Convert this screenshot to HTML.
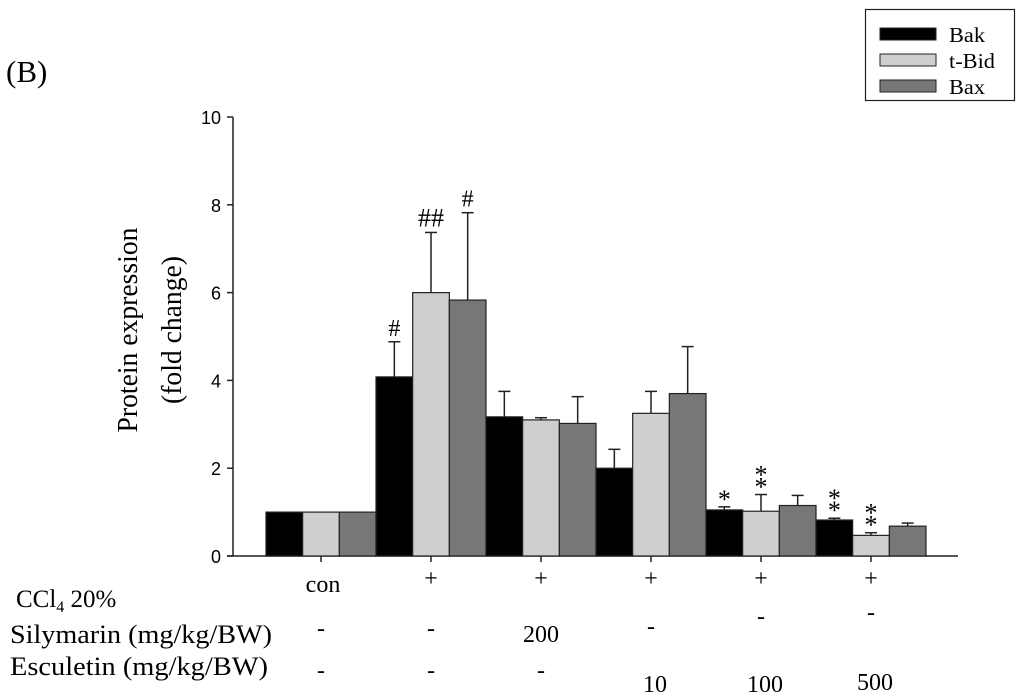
<!DOCTYPE html>
<html><head><meta charset="utf-8"><style>
html,body{margin:0;padding:0;background:#fff;}
svg{display:block;}
text{font-family:"Liberation Serif",serif;fill:#000;}
.tick{font-family:"Liberation Sans",sans-serif;font-size:18px;}
</style></head>
<body>
<svg id="chart" width="1024" height="698" viewBox="0 0 1024 698" xmlns="http://www.w3.org/2000/svg">
<text x="6" y="82" font-size="31">(B)</text>
<g>
<text x="0" y="0" font-size="29" text-anchor="middle" transform="translate(137,330) rotate(-90)" textLength="205" lengthAdjust="spacingAndGlyphs">Protein expression</text>
<text x="0" y="0" font-size="29" text-anchor="middle" transform="translate(181,330) rotate(-90)" textLength="148" lengthAdjust="spacingAndGlyphs">(fold change)</text>
</g>
<g id="axes"></g>
<g id="bars"></g>
<g id="labels"></g>
<g>
<rect x="865.5" y="9.5" width="149" height="91" fill="#fff" stroke="#222" stroke-width="1.2"/>
<rect x="880" y="28" width="56" height="12" fill="#000" stroke="#222"/>
<text x="949" y="42" font-size="21" textLength="36" lengthAdjust="spacingAndGlyphs">Bak</text>
<rect x="880" y="54" width="56" height="12" fill="#cfcfcf" stroke="#222"/>
<text x="949" y="68" font-size="21" textLength="46" lengthAdjust="spacingAndGlyphs">t-Bid</text>
<rect x="880" y="80" width="56" height="12" fill="#777" stroke="#222"/>
<text x="949" y="94" font-size="21" textLength="36" lengthAdjust="spacingAndGlyphs">Bax</text>
</g>
</svg>
<script>
const groups = ["con","+","+","+","+","+"];
const silymarin = ["-","-","200","-","-","-"];
const esculetin = ["-","-","-","10","100","500"];
const bakValues = [1.0,4.08,3.17,2.0,1.05,0.82];
const bakErrors = [0,0.80,0.58,0.43,0.07,0.04];
const tbidValues = [1.0,6.0,3.1,3.25,1.02,0.47];
const tbidErrors = [0,1.37,0.05,0.5,0.38,0.06];
const baxValues = [1.0,5.83,3.02,3.7,1.15,0.68];
const baxErrors = [0,1.99,0.61,1.07,0.23,0.07];
const bakMarks = ["","#","","","*","**"];
const tbidMarks = ["","###","","","**","**"];
const baxMarks = ["","#","","","",""];
const yTicks = [0,2,4,6,8,10];

const NS="http://www.w3.org/2000/svg";
const x0=233, y0=556, pxPerUnit=43.9, groupStart=266, groupW=110, barW=36.67;
const yS=v=>y0-v*pxPerUnit;
const gx=i=>groupStart+i*groupW;
function mk(tag,attrs,parent){const e=document.createElementNS(NS,tag);for(const k in attrs)e.setAttribute(k,attrs[k]);parent.appendChild(e);return e;}
const axes=document.getElementById('axes'), bars=document.getElementById('bars'), labels=document.getElementById('labels');

const ya=mk('line',{x1:x0,y1:y0,x2:x0,y2:yS(10),stroke:'#222','stroke-width':1.5},axes);


const xa=mk('line',{x1:x0-6,y1:y0,x2:958,y2:y0,stroke:'#222','stroke-width':1.5},axes);


yTicks.forEach(t=>{
  mk('line',{x1:x0-6,y1:yS(t),x2:x0,y2:yS(t),stroke:'#222','stroke-width':1.5},axes);
  const tx=mk('text',{x:x0-12,y:yS(t)+7,'text-anchor':'end',class:'tick'},axes);
  tx.textContent=t;
  
  
});
const series=[[bakValues,bakErrors,bakMarks,'#000','bak'],[tbidValues,tbidErrors,tbidMarks,'#cfcfcf','tbid'],[baxValues,baxErrors,baxMarks,'#777','bax']];
groups.forEach((g,i)=>{
  const cx=gx(i)+groupW/2;
  mk('line',{x1:cx,y1:y0,x2:cx,y2:y0+6,stroke:'#222','stroke-width':1.5},axes);
  series.forEach((s,j)=>{
    const v=s[0][i], e=s[1][i], bx=gx(i)+j*barW, mx=bx+barW/2;
    if(e>0){
      mk('line',{x1:mx,y1:yS(v),x2:mx,y2:yS(v+e),stroke:'#222','stroke-width':1.5},bars);
      mk('line',{x1:mx-6,y1:yS(v+e),x2:mx+6,y2:yS(v+e),stroke:'#222','stroke-width':1.5},bars);
    }
    const r=mk('rect',{x:bx,y:yS(v),width:barW,height:v*pxPerUnit,fill:s[3],stroke:'#222','stroke-width':1.2},bars);
    
    
    const m=s[2][i];
    if(m){
      const top=yS(v+e)-6;
      if(m[0]==='#'){
        const t=mk('text',{x:mx,y:top,'text-anchor':'middle','font-size':24},bars);
        if(m.length>1){t.setAttribute('font-size',26);t.setAttribute('textLength',26);t.setAttribute('lengthAdjust','spacingAndGlyphs');t.textContent='##';}
        else t.textContent='#';
        
        
      } else {
        for(let k=0;k<m.length;k++){
          const t=mk('text',{x:mx,y:top+7-k*12,'text-anchor':'middle','font-size':26,'font-family':'Liberation Sans'},bars);
          t.textContent='*';
          
          
        }
      }
    }
  });
  const t1=mk('text',{x:cx+(i===0?2:0),y:g==='con'?592:586,'text-anchor':'middle','font-size':24},labels);
  t1.textContent=g;
  
  
  const sy=[642,642,642,640,630,626][i];
  const t2=mk('text',{x:cx,y:silymarin[i]==='-'?sy-6:642,'text-anchor':'middle','font-size':24},labels);
  t2.textContent=silymarin[i];
  
  
  const ey=[684,684,684,692,692,690][i];
  const t3=mk('text',{x:cx+(i>=3?4:0),y:esculetin[i]==='-'?ey-6:ey,'text-anchor':'middle','font-size':24},labels);
  t3.textContent=esculetin[i];
  
  
});
const r1=mk('text',{x:16,y:607,'font-size':25},labels);
r1.innerHTML='CCl<tspan font-size="16" dy="5">4</tspan><tspan dy="-5"> 20%</tspan>';


const r2=mk('text',{x:10,y:643,'font-size':26,textLength:262,lengthAdjust:'spacingAndGlyphs'},labels);
r2.textContent='Silymarin (mg/kg/BW)';


const r3=mk('text',{x:10,y:675,'font-size':26,textLength:258,lengthAdjust:'spacingAndGlyphs'},labels);
r3.textContent='Esculetin (mg/kg/BW)';


</script>
</body></html>
